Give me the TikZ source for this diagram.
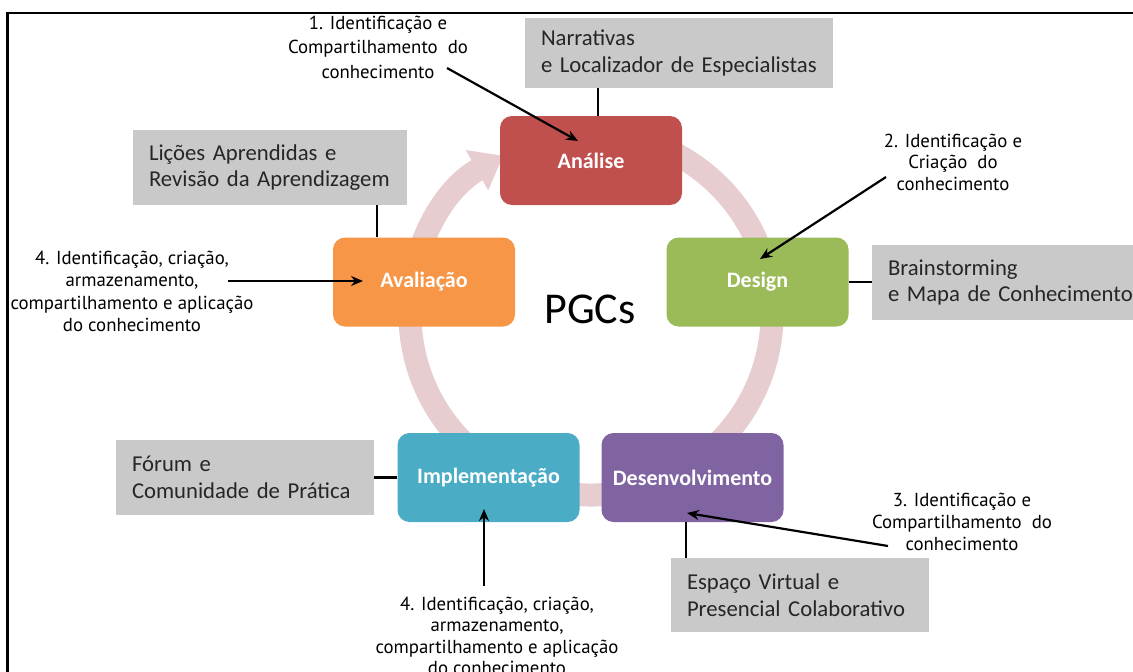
\documentclass[tikz,border=0pt]{standalone}
\usepackage{fontspec}
\setmainfont{Carlito}
\newfontfamily\labfont{PT Sans}
\usetikzlibrary{arrows.meta}
\definecolor{ringc}{RGB}{231,205,208}
\definecolor{grayb}{RGB}{201,201,201}
\definecolor{cana}{RGB}{192,80,77}
\definecolor{cava}{RGB}{247,150,70}
\definecolor{cdes}{RGB}{155,187,89}
\definecolor{cimp}{RGB}{75,172,198}
\definecolor{cdev}{RGB}{128,100,162}
\definecolor{gtext}{RGB}{38,38,38}
\tikzset{
  phase/.style={draw=none, rounded corners=12pt, minimum width=182pt, minimum height=89pt,
    text=white, font=\fontsize{22}{24}\selectfont\bfseries, inner sep=0pt},
  tool/.style={fill=grayb, minimum height=74pt, inner xsep=16pt, inner ysep=0pt,
    align=left, text=gtext, font=\fontsize{22.7}{26.5}\selectfont},
  lab/.style={align=center, font=\labfont\fontsize{18.8}{22}\selectfont, inner sep=0pt},
  conn/.style={line width=2.4pt, black},
  arr/.style={line width=2.2pt, black, -{Stealth[length=12pt,width=10pt]}}
}
\begin{document}
\begin{tikzpicture}[x=1pt,y=1pt]
\useasboundingbox (0,0) rectangle (1133,-672);
\fill[white] (0,0) rectangle (1133,-672);
% frame
\draw[line width=2.6pt] (1145,-13) -- (7.5,-13) -- (7.5,-690);
% ring
\draw[ringc, line width=23pt, -{Triangle[width=44pt,length=30pt]}]
  (591,-314) ++(100:181pt) arc[start angle=100, end angle=-241, radius=181pt];
% PGCs
\node (pgc) at (590,-309) {\fontsize{44}{48}\selectfont PGCs};
% phases
\node[phase, fill=cana] (ana) at (591,-160.5) {Análise};
\node[phase, fill=cava] (ava) at (424,-282) {Avaliação};
\node[phase, fill=cdes] (des) at (757.5,-282) {Design};
\node[phase, fill=cimp] (imp) at (488.5,-477.5) {Implementação};
\node[phase, fill=cdev] (dev) at (692.5,-477.5) {Desenvolvimento};
% tools
\node[tool, minimum height=70pt, text width=276pt] (narr) at (679,-53) {Narrativas\\e Localizador de Especialistas};
\node[tool, minimum height=75pt, text width=242pt] (lic) at (270,-167.5) {Lições Aprendidas e\\Revisão da Aprendizagem};
\node[tool, minimum height=75pt, text width=248pt] (brain) at (1012,-282.5) {Brainstorming\\e Mapa de Conhecimento};
\node[tool, minimum height=75pt, text width=226pt] (forum) at (245,-477.5) {Fórum e\\Comunidade de Prática};
\node[tool, minimum height=74pt, text width=226pt] (esp) at (800,-595) {Espaço Virtual e\\Presencial Colaborativo};
% tool connectors
\draw[conn] ([xshift=7pt]ana.north) -- ([xshift=7pt]ana.north |- narr.south);
\draw[conn] ([xshift=-47pt]ava.north) -- ([xshift=-47pt]ava.north |- lic.south);
\draw[conn] (des.east) -- (des.east -| brain.west);
\draw[conn] (imp.west) -- (imp.west -| forum.east);
\draw[conn] ([xshift=-6.5pt]dev.south) -- ([xshift=-6.5pt]dev.south |- esp.north);
% labels
\node[lab, font=\labfont\fontsize{18.8}{24.5}\selectfont] (l1) at (378,-47) {1. Identificação e\\Compartilhamento\ \ do\\conhecimento};
\node[lab, font=\labfont\fontsize{18.8}{21.5}\selectfont] (l2) at (953,-162) {2. Identificação e\\Criação\ \ do\\conhecimento};
\node[lab] (l3) at (962,-522) {3. Identificação e\\Compartilhamento\ \ do\\conhecimento};
\node[lab, font=\labfont\fontsize{18.8}{22.3}\selectfont] (l4a) at (132,-291.5) {4. Identificação, criação,\\armazenamento,\\compartilhamento e aplicação\\do conhecimento};
\node[lab, font=\labfont\fontsize{18.8}{21.5}\selectfont] (l4b) at (497,-636) {4. Identificação, criação,\\armazenamento,\\compartilhamento e aplicação\\do conhecimento};
% arrows
\coordinate (a1s) at (447,-68); \coordinate (a1e) at (578,-141);
\coordinate (a2s) at (886,-177); \coordinate (a2e) at (760,-259);
\coordinate (a3s) at (888,-546); \coordinate (a3e) at (687,-513);
\coordinate (a4s) at (228,-281); \coordinate (a4e) at (363,-281);
\coordinate (a5s) at (484,-586); \coordinate (a5e) at (484,-509);
\draw[arr] (a1s) -- (a1e);
\draw[arr] (a2s) -- (a2e);
\draw[arr] (a3s) -- (a3e);
\draw[arr] (a4s) -- (a4e);
\draw[arr] (a5s) -- (a5e);
\end{tikzpicture}
\end{document}
